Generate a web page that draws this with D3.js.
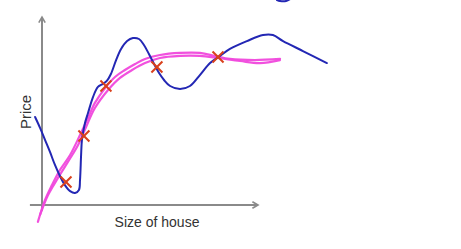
<!DOCTYPE html>
<html>
<head>
<meta charset="utf-8">
<script src="https://cdn.jsdelivr.net/npm/d3@7"></script>
<style>
  body { margin: 0; background: #fff; }
  text { font-family: "Liberation Sans", Arial, sans-serif; fill: #333; }
</style>
</head>
<body>
<svg id="chart" width="461" height="249"></svg>
<script>
// training examples (size, price) in axis units 0..10
const sizes  = [1.11, 1.94, 2.96, 5.32, 8.15];
const prices = [1.22, 3.67, 6.33, 7.34, 7.87];

// overfit (wiggly) hypothesis, hand drawn
const overfitSize  = [-0.32, -0.09, 0.14, 0.37, 0.6, 0.83, 1.06, 1.3, 1.53, 1.71, 1.76, 1.81, 1.85, 1.99, 2.13, 2.36, 2.59, 2.82, 3.0, 3.19, 3.43, 3.66, 3.94, 4.21, 4.49, 4.72, 4.95, 5.19, 5.42, 5.65, 5.93, 6.39, 6.85, 7.31, 7.78, 8.24, 8.7, 9.49, 10.23, 10.69, 11.16, 12.08, 13.19];
const overfitPrice = [4.68, 4.1, 3.46, 2.82, 2.13, 1.54, 1.06, 0.74, 0.64, 0.8, 1.33, 2.66, 3.46, 4.36, 4.89, 5.74, 6.28, 6.44, 6.6, 6.97, 7.71, 8.3, 8.72, 8.88, 8.83, 8.51, 8.03, 7.5, 7.02, 6.65, 6.33, 6.17, 6.33, 6.91, 7.55, 7.93, 8.3, 8.72, 9.04, 9.04, 8.72, 8.19, 7.55];

// smooth fit, drawn twice (two close strokes)
const fitASize  = [-0.19, 0.14, 0.46, 0.83, 1.3, 1.76, 2.13, 2.45, 2.92, 3.38, 3.84, 4.31, 4.77, 5.46, 6.39, 7.31, 8.01, 8.7, 9.86, 11.02];
const fitAPrice = [-0.9, 0.27, 1.06, 1.86, 2.66, 3.72, 4.63, 5.43, 6.22, 6.81, 7.18, 7.5, 7.77, 7.98, 8.09, 8.09, 7.93, 7.77, 7.71, 7.77];
const fitBSize  = [-0.09, 0.28, 0.74, 1.2, 1.67, 2.04, 2.45, 3.06, 3.61, 4.17, 4.77, 5.46, 6.39, 7.31, 8.15, 9.17, 10.09, 11.02];
const fitBPrice = [-0.53, 0.53, 1.44, 2.29, 3.19, 4.15, 5.16, 6.12, 6.76, 7.18, 7.55, 7.82, 7.93, 7.93, 7.82, 7.66, 7.55, 7.71];

// little stray pen mark at the top edge
const scrapSize  = [10.88, 11.02, 11.3, 11.48];
const scrapPrice = [10.9, 10.85, 10.85, 10.95];

const xLabel = "Size of house";
const yLabel = "Price";

const svg = d3.select("#chart");
const x = d3.scaleLinear().domain([0, 10]).range([42, 258]);
const y = d3.scaleLinear().domain([0, 10]).range([205, 17]);

const toPts = (xs, ys) => xs.map((v, i) => [v, ys[i]]);
const line = d3.line().x(d => x(d[0])).y(d => y(d[1])).curve(d3.curveCatmullRom);

// axes with arrow heads
const axisCol = "#8a8a8a";
svg.append("defs").append("marker")
  .attr("id", "arr").attr("viewBox", "0 0 10 10").attr("refX", 8).attr("refY", 5)
  .attr("markerWidth", 4).attr("markerHeight", 4).attr("orient", "auto")
  .append("path").attr("d", "M1,1 L8,5 L1,9").attr("fill", "none")
  .attr("stroke", axisCol).attr("stroke-width", 2);

svg.append("line").attr("x1", x(-0.56)).attr("y1", y(0)).attr("x2", x(10)).attr("y2", y(0))
  .attr("stroke", axisCol).attr("stroke-width", 2).attr("marker-end", "url(#arr)");
svg.append("line").attr("x1", x(0)).attr("y1", y(-0.3)).attr("x2", x(0)).attr("y2", y(10))
  .attr("stroke", axisCol).attr("stroke-width", 2).attr("marker-end", "url(#arr)");

svg.append("text").attr("x", 157).attr("y", 227).attr("text-anchor", "middle")
  .attr("font-size", 14).text(xLabel);
svg.append("text").attr("transform", "translate(31,112) rotate(-90)")
  .attr("text-anchor", "middle").attr("font-size", 15).text(yLabel);

// curves
const pink = "#f048dc";
[[fitASize, fitAPrice], [fitBSize, fitBPrice]].forEach(([xs, ys]) => {
  svg.append("path").datum(toPts(xs, ys)).attr("d", line)
    .attr("fill", "none").attr("stroke", pink).attr("stroke-width", 2.2)
    .attr("stroke-linecap", "round").attr("opacity", 0.95);
});

const blue = "#2327b4";
svg.append("path").datum(toPts(overfitSize, overfitPrice)).attr("d", line)
  .attr("fill", "none").attr("stroke", blue).attr("stroke-width", 2).attr("stroke-linecap", "round");
svg.append("path").datum(toPts(scrapSize, scrapPrice)).attr("d", line)
  .attr("fill", "none").attr("stroke", blue).attr("stroke-width", 2).attr("stroke-linecap", "round");

// crosses
const r = 5.5;
const cross = svg.append("g").selectAll("g").data(toPts(sizes, prices)).enter().append("g")
  .attr("transform", d => `translate(${x(d[0])},${y(d[1])})`);
cross.append("line").attr("x1", -r).attr("y1", -r).attr("x2", r).attr("y2", r);
cross.append("line").attr("x1", -r).attr("y1", r).attr("x2", r).attr("y2", -r);
cross.selectAll("line").attr("stroke", "#d9401c").attr("stroke-width", 2);
</script>
</body>
</html>
